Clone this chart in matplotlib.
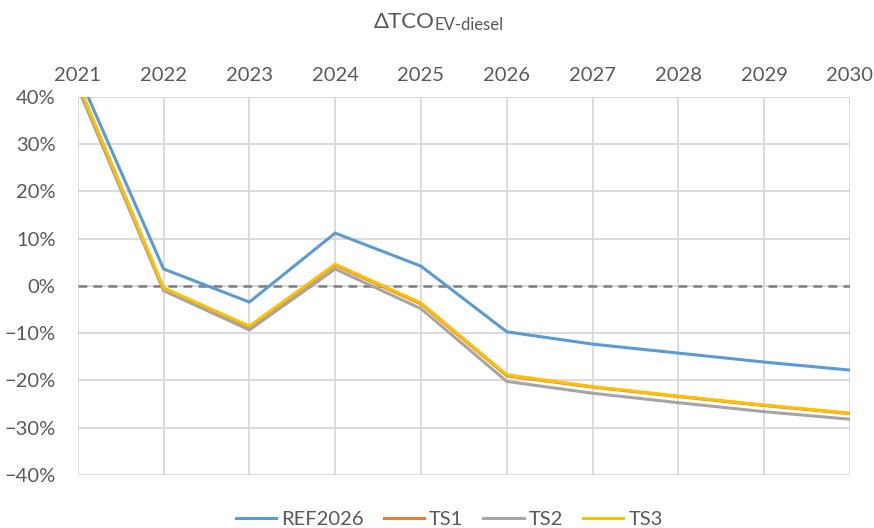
import matplotlib.pyplot as plt
from matplotlib.ticker import PercentFormatter

# data
years = [2021, 2022, 2023, 2024, 2025, 2026, 2027, 2028, 2029, 2030]
ref2026 = [0.450, 0.036, -0.034, 0.112, 0.042, -0.097, -0.123, -0.142, -0.161, -0.178]
ts1 = [0.428, -0.006, -0.087, 0.044, -0.038, -0.190, -0.214, -0.234, -0.253, -0.270]
ts2 = [0.420, -0.010, -0.093, 0.036, -0.048, -0.202, -0.227, -0.247, -0.266, -0.282]
ts3 = [0.430, -0.004, -0.085, 0.046, -0.036, -0.188, -0.213, -0.233, -0.252, -0.269]

series = [('REF2026', ref2026, '#5B9BD5'),
          ('TS1', ts1, '#ED7D31'),
          ('TS2', ts2, '#A5A5A5'),
          ('TS3', ts3, '#FFC000')]

plt.rcParams['font.family'] = ['Lato', 'DejaVu Sans']
text_col = '#595959'

fig = plt.figure(figsize=(8.74, 5.28), dpi=100)
ax = fig.add_axes([0.089, 0.1004, 0.8835, 0.7159])

for name, vals, col in series:
    ax.plot(years, vals, color=col, lw=2.2, label=name, solid_joinstyle='miter')

ax.axhline(0, color='#7F7F7F', lw=1.8, ls=(0, (3.5, 2.5)), zorder=1)

ax.set_xlim(2021, 2030)
ax.set_ylim(-0.4, 0.4)
ax.set_xticks(years)
ax.set_yticks([i / 10 for i in range(-4, 5)])
ax.yaxis.set_major_formatter(PercentFormatter(1.0, decimals=0))
ax.xaxis.tick_top()
ax.tick_params(length=0, labelsize=14.5, colors=text_col)
ax.tick_params(axis='x', pad=9)
ax.tick_params(axis='y', pad=16)
ax.grid(True, color='#D9D9D9', lw=1.3, zorder=0)
ax.set_axisbelow(True)
for s in ax.spines.values():
    s.set_visible(False)

fig.text(0.497, 0.958, '\u0394TCO', ha='right', va='center', fontsize=16, color=text_col)
fig.text(0.497, 0.952, 'EV-diesel', ha='left', va='center', fontsize=12, color=text_col)

fig.legend(loc='center', bbox_to_anchor=(0.514, 0.017), ncol=4, frameon=False,
           fontsize=14.5, labelcolor=text_col, handlelength=2.0,
           handletextpad=0.25, columnspacing=1.0)

plt.savefig('out.png', dpi=100)
